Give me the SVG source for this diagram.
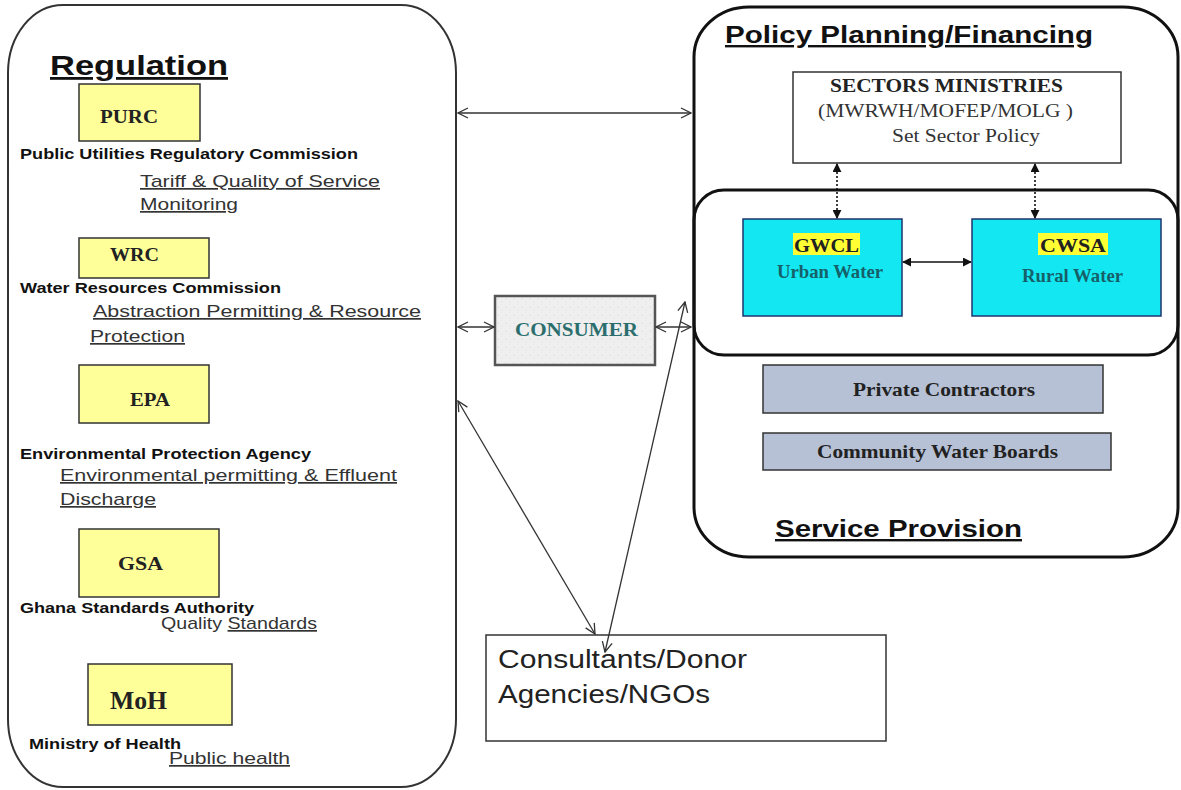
<svg xmlns="http://www.w3.org/2000/svg" width="1181" height="790" viewBox="0 0 1181 790">
<style>
.sans{font-family:"Liberation Sans",Arial,sans-serif}
.serif{font-family:"Liberation Serif","Times New Roman",serif}
.title{font-family:"Liberation Sans",Arial,sans-serif;font-weight:bold;fill:#111;text-decoration:underline}
.org{font-family:"Liberation Sans",Arial,sans-serif;font-weight:bold;font-size:14px;fill:#111}
.desc{font-family:"Liberation Sans",Arial,sans-serif;font-size:17px;fill:#333;text-decoration:underline}
.abbr{font-family:"Liberation Serif","Times New Roman",serif;font-weight:bold;fill:#222}
.ybox{fill:#ffff99;stroke:#333;stroke-width:1.5}
.cbox{fill:#13e8f2;stroke:#1f3570;stroke-width:1.5}
.gbox{fill:#b6c1d5;stroke:#333;stroke-width:1.5}
.thin{stroke:#333;stroke-width:1.3;fill:none}
.dot{stroke:#111;stroke-width:1.6;fill:none;stroke-dasharray:2 2}
.solid{stroke:#111;stroke-width:1.6;fill:none}
.sb{font-family:"Liberation Serif","Times New Roman",serif;font-weight:bold}
</style>
<defs>
<marker id="open" viewBox="0 0 12 12" refX="11" refY="6" markerWidth="12" markerHeight="12" markerUnits="userSpaceOnUse" orient="auto-start-reverse">
<path d="M1,1 L11,6 L1,11" fill="none" stroke="#333" stroke-width="1.3"/>
</marker>
<marker id="fill" viewBox="0 0 10 10" refX="9" refY="5" markerWidth="9" markerHeight="9" markerUnits="userSpaceOnUse" orient="auto-start-reverse">
<path d="M0,0 L10,5 L0,10 Z" fill="#111"/>
</marker>
<pattern id="speckle" width="8" height="8" patternUnits="userSpaceOnUse">
<rect width="8" height="8" fill="#efefef"/>
<circle cx="2" cy="3" r="0.6" fill="#cfcfcf"/>
<circle cx="6" cy="6" r="0.5" fill="#d6d6d6"/>
<circle cx="5" cy="1" r="0.4" fill="#dadada"/>
</pattern>
</defs>
<rect width="1181" height="790" fill="#fff"/>

<g id="regulation">
<rect x="8" y="5" width="448" height="782" rx="55" ry="68" fill="none" stroke="#333" stroke-width="2"/>
<text class="title" x="50" y="75" style="font-size:28px" textLength="178" lengthAdjust="spacingAndGlyphs">Regulation</text>
</g>

<g id="purc">
<rect class="ybox" x="79" y="84" width="121" height="57"/>
<text class="abbr" x="100" y="123" style="font-size:19px" textLength="58" lengthAdjust="spacingAndGlyphs">PURC</text>
<text class="org" x="20" y="159" textLength="338" lengthAdjust="spacingAndGlyphs">Public Utilities Regulatory Commission</text>
<text class="desc" x="140" y="187" textLength="240" lengthAdjust="spacingAndGlyphs">Tariff &amp; Quality of Service</text>
<text class="desc" x="140" y="210" textLength="98" lengthAdjust="spacingAndGlyphs">Monitoring</text>
</g>

<g id="wrc">
<rect class="ybox" x="79" y="238" width="130" height="40"/>
<text class="abbr" x="110" y="261" style="font-size:19px" textLength="49" lengthAdjust="spacingAndGlyphs">WRC</text>
<text class="org" x="20" y="293" textLength="261" lengthAdjust="spacingAndGlyphs">Water Resources Commission</text>
<text class="desc" x="93" y="317" textLength="328" lengthAdjust="spacingAndGlyphs">Abstraction Permitting &amp; Resource</text>
<text class="desc" x="90" y="342" textLength="95" lengthAdjust="spacingAndGlyphs">Protection</text>
</g>

<g id="epa">
<rect class="ybox" x="79" y="365" width="130" height="58"/>
<text class="abbr" x="130" y="406" style="font-size:19px" textLength="40" lengthAdjust="spacingAndGlyphs">EPA</text>
<text class="org" x="20" y="459" textLength="291" lengthAdjust="spacingAndGlyphs">Environmental Protection Agency</text>
<text class="desc" x="60" y="481" textLength="337" lengthAdjust="spacingAndGlyphs">Environmental permitting &amp; Effluent</text>
<text class="desc" x="60" y="505" textLength="96" lengthAdjust="spacingAndGlyphs">Discharge</text>
</g>

<g id="gsa">
<rect class="ybox" x="79" y="529" width="140" height="68"/>
<text class="abbr" x="118" y="570" style="font-size:19px" textLength="45" lengthAdjust="spacingAndGlyphs">GSA</text>
<text class="org" x="20" y="613" textLength="234" lengthAdjust="spacingAndGlyphs">Ghana Standards Authority</text>
<text x="161" y="629" class="sans" font-size="17" fill="#333" textLength="156" lengthAdjust="spacingAndGlyphs">Quality <tspan text-decoration="underline">Standards</tspan></text>
</g>

<g id="moh">
<rect class="ybox" x="88" y="664" width="144" height="61"/>
<text class="abbr" x="110" y="709" style="font-size:25px" textLength="57" lengthAdjust="spacingAndGlyphs">MoH</text>
<text class="org" x="29" y="749" textLength="152" lengthAdjust="spacingAndGlyphs">Ministry of Health</text>
<text class="desc" x="169" y="764" textLength="121" lengthAdjust="spacingAndGlyphs">Public health</text>
</g>

<g id="consumer">
<rect x="495" y="296" width="160" height="69" fill="url(#speckle)" stroke="#555" stroke-width="2.5"/>
<text class="sb" x="515" y="336" style="font-size:18px;fill:#2b6e6e" textLength="123" lengthAdjust="spacingAndGlyphs">CONSUMER</text>
</g>

<g id="consultants">
<rect x="486" y="635" width="400" height="106" fill="#fff" stroke="#333" stroke-width="1.5"/>
<text class="sans" x="498" y="668" font-size="25" fill="#222" textLength="249" lengthAdjust="spacingAndGlyphs">Consultants/Donor</text>
<text class="sans" x="498" y="703" font-size="25" fill="#222" textLength="212" lengthAdjust="spacingAndGlyphs">Agencies/NGOs</text>
</g>

<g id="policy">
<rect x="694" y="7" width="484" height="550" rx="55" ry="50" fill="none" stroke="#111" stroke-width="3"/>
<text class="title" x="725" y="43" style="font-size:24px" textLength="368" lengthAdjust="spacingAndGlyphs">Policy Planning/Financing</text>
<text class="title" x="775" y="537" style="font-size:24px" textLength="247" lengthAdjust="spacingAndGlyphs">Service Provision</text>
</g>

<g id="sectors">
<rect x="793" y="72" width="328" height="91" fill="#fff" stroke="#333" stroke-width="1.5"/>
<text class="sb" x="830" y="92" style="font-size:19px;fill:#222" textLength="233" lengthAdjust="spacingAndGlyphs">SECTORS MINISTRIES</text>
<text class="serif" x="818" y="117" style="font-size:19px;fill:#333" textLength="255" lengthAdjust="spacingAndGlyphs">(MWRWH/MOFEP/MOLG )</text>
<text class="serif" x="892" y="142" style="font-size:19px;fill:#333" textLength="148" lengthAdjust="spacingAndGlyphs">Set Sector Policy</text>
</g>

<g id="agencies">
<rect x="694" y="190" width="484" height="165" rx="30" ry="30" fill="none" stroke="#111" stroke-width="3"/>
</g>

<g id="gwcl">
<rect class="cbox" x="743" y="219" width="159" height="97"/>
<rect x="793" y="233" width="67" height="22" fill="#ffff33"/>
<text class="sb" x="794" y="252" style="font-size:19px;fill:#222" textLength="65" lengthAdjust="spacingAndGlyphs">GWCL</text>
<text class="sb" x="777" y="278" style="font-size:19px;fill:#16606a" textLength="106" lengthAdjust="spacingAndGlyphs">Urban Water</text>
</g>

<g id="cwsa">
<rect class="cbox" x="972" y="219" width="189" height="97"/>
<rect x="1038" y="233" width="70" height="22" fill="#ffff33"/>
<text class="sb" x="1040" y="252" style="font-size:19px;fill:#222" textLength="66" lengthAdjust="spacingAndGlyphs">CWSA</text>
<text class="sb" x="1022" y="282" style="font-size:19px;fill:#16606a" textLength="101" lengthAdjust="spacingAndGlyphs">Rural Water</text>
</g>

<g id="private">
<rect class="gbox" x="763" y="365" width="340" height="48"/>
<text class="sb" x="853" y="396" style="font-size:19px;fill:#222" textLength="182" lengthAdjust="spacingAndGlyphs">Private Contractors</text>
</g>

<g id="cwb">
<rect class="gbox" x="763" y="433" width="348" height="37"/>
<text class="sb" x="817" y="458" style="font-size:19px;fill:#222" textLength="241" lengthAdjust="spacingAndGlyphs">Community Water Boards</text>
</g>

<g id="connectors">
<line class="thin" x1="458" y1="113" x2="691" y2="113" marker-start="url(#open)" marker-end="url(#open)"/>
<line class="thin" x1="458" y1="327" x2="494" y2="327" marker-start="url(#open)" marker-end="url(#open)"/>
<line class="thin" x1="656" y1="327" x2="691" y2="327" marker-start="url(#open)" marker-end="url(#open)"/>
<line class="thin" x1="458" y1="401" x2="595" y2="634" marker-start="url(#open)" marker-end="url(#open)"/>
<line class="thin" x1="685" y1="302" x2="605" y2="652" marker-start="url(#open)" marker-end="url(#open)"/>
<line class="dot" x1="837" y1="164" x2="837" y2="218" marker-start="url(#fill)" marker-end="url(#fill)"/>
<line class="dot" x1="1035" y1="164" x2="1035" y2="218" marker-start="url(#fill)" marker-end="url(#fill)"/>
<line class="solid" x1="903" y1="262" x2="971" y2="262" marker-start="url(#fill)" marker-end="url(#fill)"/>
</g>
</svg>
